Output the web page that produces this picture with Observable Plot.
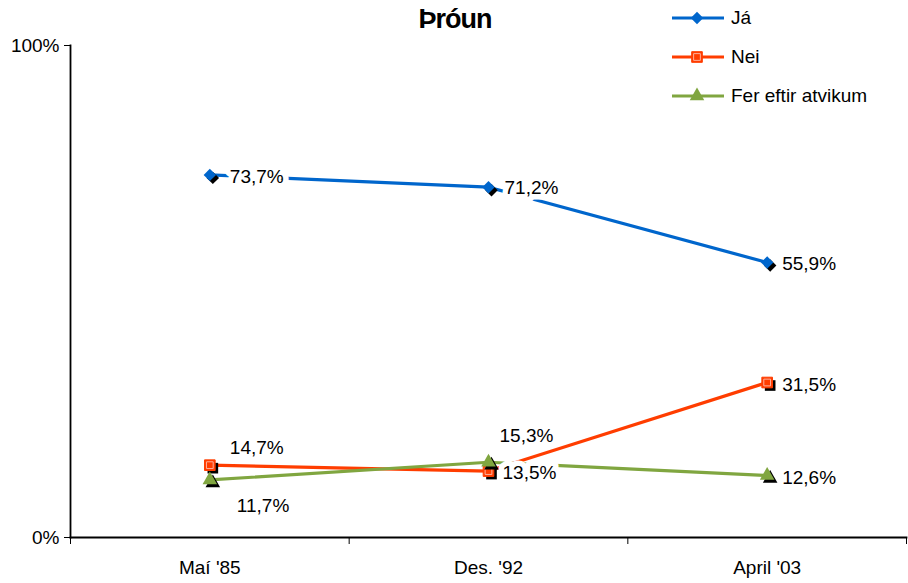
<!DOCTYPE html>
<html>
<head>
<meta charset="utf-8">
<script src="https://cdn.jsdelivr.net/npm/d3@7"></script>
<script src="https://cdn.jsdelivr.net/npm/@observablehq/plot@0.6"></script>
<style>
  html, body { margin: 0; padding: 0; background: #fff; }
  #wrap { position: relative; width: 908px; height: 583px; font-family: "Liberation Sans", Arial, sans-serif; }
  #title { position: absolute; left: 355px; width: 200px; top: 4px; text-align: center; font-weight: bold; font-size: 27px; letter-spacing: -1px; color: #000; }
  #legend { position: absolute; left: 670px; top: 0px; font-size: 19px; color: #000; }
  .row { position: absolute; left: 0; height: 30px; display: flex; align-items: center; white-space: nowrap; }
  .row svg { display: block; margin-right: 5px; }
</style>
</head>
<body>
<div id="wrap">
  <div id="chart"></div>
  <div id="title">Þróun</div>
  <div id="legend"></div>
</div>
<script>
const categories = ["Maí '85", "Des. '92", "April '03"];
const seriesNames = ["Já", "Nei", "Fer eftir atvikum"];
const ja = [73.7, 71.2, 55.9];
const nei = [14.7, 13.5, 31.5];
const fer = [11.7, 15.3, 12.6];
const yTicks = [0, 100];

const colors = ["#0066CC", "#FF3D00", "#80A640"];
const symbols = ["diamond2", "square", "triangle"];
const radii = [5.6, 6.0, 5.4];

const values = [ja, nei, fer];
const rows = [];
values.forEach((arr, s) => arr.forEach((v, i) => rows.push({series: seriesNames[s], s, i, x: i + 0.5, v})));

// label placement (style, not data)
const place = {
  "0-0": [20, 2], "0-1": [16, 1], "0-2": [15, 1],
  "1-0": [20, -17], "1-1": [14, 2], "1-2": [15, 2],
  "2-0": [27, 26], "2-1": [11, -26], "2-2": [15, 2]
};
const fmt = v => v.toFixed(1).replace(".", ",") + "%";

const marks = [
  Plot.frame({anchor: "left", stroke: "#000", strokeWidth: 1.8}),
  Plot.frame({anchor: "bottom", stroke: "#000", strokeWidth: 1.8}),
  Plot.axisY({ticks: yTicks, tickSize: 6, tickPadding: 5, tickFormat: d => d + "%", label: null, fontSize: 19}),
  Plot.axisX({ticks: [0, 1, 2, 3], tickSize: 7, tickFormat: () => "", label: null}),
  Plot.axisX({ticks: categories.map((c, i) => i + 0.5), tickSize: 0, tickPadding: 23, tickFormat: d => categories[Math.floor(d)], label: null, fontSize: 19}),
  Plot.line(rows, {x: "x", y: "v", z: "series", stroke: d => colors[d.s], strokeWidth: 3.2})
];
seriesNames.forEach((name, s) => {
  const sub = rows.filter(d => d.s === s);
  marks.push(Plot.dot(sub, {x: "x", y: "v", symbol: () => symbols[s], r: radii[s], fill: "#000", dx: 3, dy: 3}));
  marks.push(Plot.dot(sub, {x: "x", y: "v", symbol: () => symbols[s], r: radii[s], fill: colors[s], stroke: s === 1 ? colors[s] : "none", strokeWidth: 1}));
  if (s === 1) marks.push(Plot.dot(sub, {x: "x", y: "v", symbol: () => "square", r: radii[s] - 2.2, fill: "none", stroke: "#FFB09A", strokeWidth: 1}));
});

rows.forEach(d => {
  const [dx, dy] = place[d.s + "-" + d.i];
  marks.push(Plot.text([d], {x: "x", y: "v", text: r => fmt(r.v), textAnchor: "start", dx, dy,
    fontSize: 19, fill: "#000", stroke: "#fff", strokeWidth: 11, strokeLinejoin: "round", paintOrder: "stroke", lineAnchor: "middle"}));
});

const chart = Plot.plot({
  width: 908,
  height: 583,
  marginLeft: 70,
  marginRight: 2,
  marginTop: 45,
  marginBottom: 46,
  style: {fontFamily: "'Liberation Sans', Arial, sans-serif", fontSize: "19px", background: "#fff", color: "#000", overflow: "visible"},
  x: {type: "linear", domain: [0, 3], axis: null},
  y: {domain: [0, 100], axis: null},
  marks
});
document.getElementById("chart").appendChild(chart);

// legend
const legend = document.getElementById("legend");
const rowY = [3, 42, 81];
seriesNames.forEach((name, s) => {
  const row = document.createElement("div");
  row.className = "row";
  row.style.top = rowY[s] + "px";
  const sym = d3.symbol(d3["symbol" + (s === 0 ? "Diamond2" : s === 1 ? "Square" : "Triangle")], Math.PI * radii[s] * radii[s])();
  row.innerHTML = `<svg width="56" height="30"><line x1="2" x2="54" y1="15" y2="15" stroke="${colors[s]}" stroke-width="3.2"/>` +
    `<path d="${sym}" transform="translate(27,15)" fill="${colors[s]}" ${s === 1 ? `stroke="${colors[s]}"` : ""}/>` +
    (s === 1 ? `<path d="${d3.symbol(d3.symbolSquare, Math.PI * (radii[s]-2.2) ** 2)()}" transform="translate(27,15)" fill="none" stroke="#FFB09A"/>` : "") +
    `</svg><span>${name}</span>`;
  legend.appendChild(row);
});
</script>
</body>
</html>
